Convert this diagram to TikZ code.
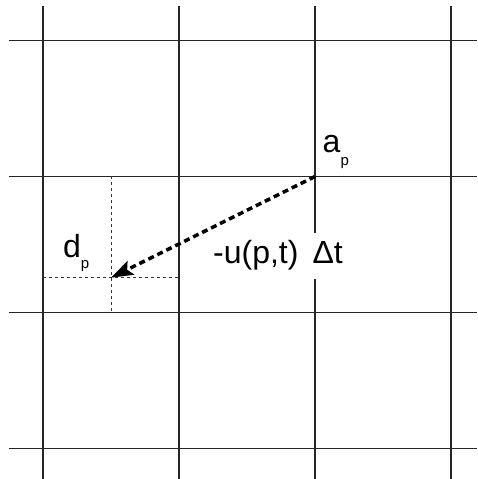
\documentclass[tikz,border=0pt]{standalone}
\usepackage{fontspec}
\setmainfont{Liberation Sans}
\usetikzlibrary{arrows.meta}
\begin{document}
\begin{tikzpicture}[x=1pt,y=1pt,
  gridline/.style={line width=1.3pt,black!85},
  helpline/.style={line width=0.8pt,dash pattern=on 3pt off 3pt,black!80},
  movearrow/.style={line width=3.5pt,dash pattern=on 6pt off 4pt,-{Stealth[length=22pt,width=15pt,inset=4pt]}},
  bigtext/.style={font=\fontsize{32}{32}\selectfont},
  lbl/.style={inner sep=0pt,anchor=base west}]
\useasboundingbox (0,0) rectangle (477,479);
% grid
\foreach \x in {43,179,315,451} \draw[gridline] (\x,473) -- (\x,0);
\foreach \y in {438.5,302.5,166.5,30.5} \draw[gridline] (9,\y) -- (477,\y);
% points
\coordinate (a) at (315,302.5);
\coordinate (d) at (111,201.3);
\coordinate (dt) at (111,302.5);
\coordinate (db) at (111,166.5);
\coordinate (dl) at (43,201.3);
\coordinate (dr) at (179,201.3);
% helper dotted lines
\draw[helpline] (dt) -- (db);
\draw[helpline] (dl) -- (dr);
% labels
\node[lbl] (alab) at (322.5,326) {\fontsize{32}{32}\selectfont a\raisebox{-13pt}{\fontsize{15}{15}\selectfont p}};
\node[lbl] (dlab) at (63,221.7) {\fontsize{32}{32}\selectfont d\raisebox{-11pt}{\fontsize{15}{15}\selectfont p}};
\node[fill=white,inner sep=8pt,anchor=base west] (ulab) at (205,215) {\fontsize{32}{32}\selectfont -u(p,t)\hspace{14pt}Δt};
% arrow
\draw[movearrow] (a) -- (d);
\end{tikzpicture}
\end{document}
